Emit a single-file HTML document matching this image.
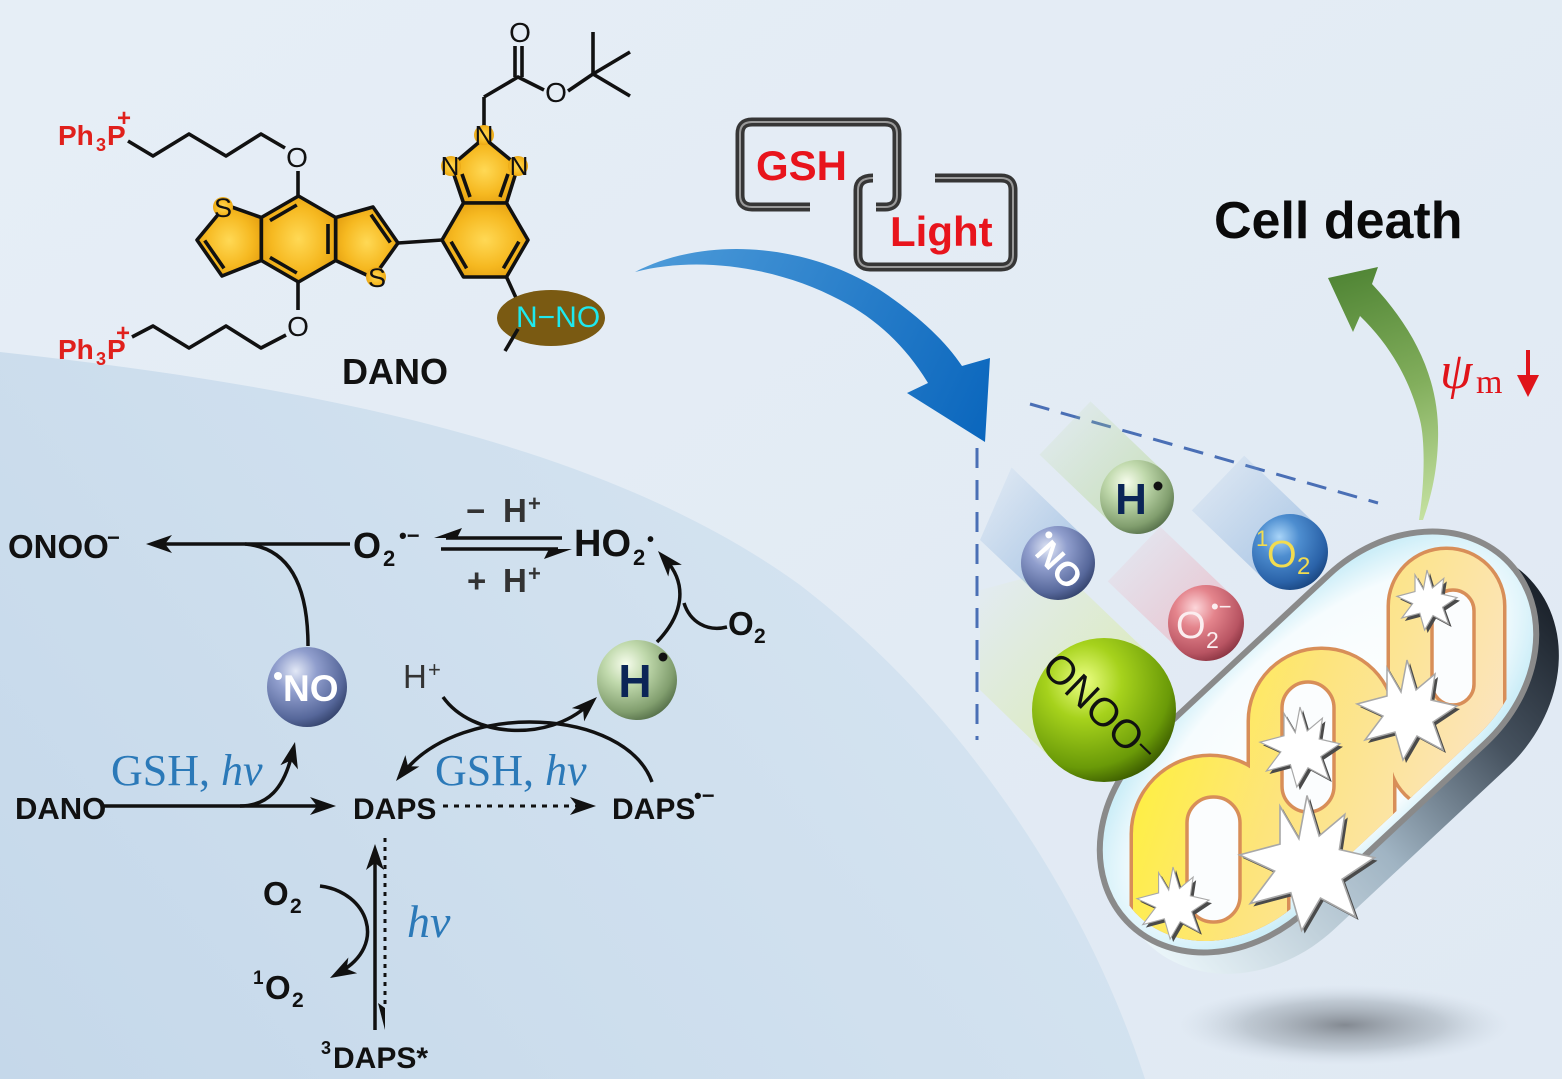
<!DOCTYPE html>
<html><head><meta charset="utf-8"><title>DANO scheme</title>
<style>
html,body{margin:0;padding:0;background:#e4edf5;overflow:hidden}
svg{display:block}
text{font-family:"Liberation Sans",Arial,sans-serif}
.b{font-weight:bold}
.sf{font-family:"Liberation Serif","Times New Roman",serif}
</style></head><body>
<svg xmlns="http://www.w3.org/2000/svg" xmlns:xlink="http://www.w3.org/1999/xlink" width="1562" height="1079" viewBox="0 0 1562 1079">
<defs>
<linearGradient id="bgTop" x1="0" y1="0" x2="1" y2="1">
 <stop offset="0" stop-color="#e6eef6"/><stop offset="1" stop-color="#e0e9f3"/>
</linearGradient>
<linearGradient id="bgLow" gradientUnits="userSpaceOnUse" x1="0" y1="1079" x2="800" y2="450">
 <stop offset="0" stop-color="#c5d8ea"/><stop offset="1" stop-color="#d4e3f0"/>
</linearGradient>
<radialGradient id="gold" cx="0.5" cy="0.5" r="0.6">
 <stop offset="0" stop-color="#ffd955"/><stop offset="0.6" stop-color="#f6b921"/><stop offset="1" stop-color="#e39d0e"/>
</radialGradient>
<linearGradient id="blueArr" gradientUnits="userSpaceOnUse" x1="635" y1="272" x2="985" y2="442">
 <stop offset="0" stop-color="#4d9bd9"/><stop offset="1" stop-color="#0a66bd"/>
</linearGradient>
<linearGradient id="greenArr" gradientUnits="userSpaceOnUse" x1="1340" y1="270" x2="1425" y2="520">
 <stop offset="0" stop-color="#4f8434"/><stop offset="0.5" stop-color="#82ae5c"/><stop offset="1" stop-color="#c6e2a2"/>
</linearGradient>
<radialGradient id="gNO" cx="0.36" cy="0.3" r="0.75" fx="0.36" fy="0.3">
 <stop offset="0" stop-color="#e2e8f6"/><stop offset="0.35" stop-color="#909ecd"/><stop offset="0.8" stop-color="#56679a"/><stop offset="1" stop-color="#34436c"/>
</radialGradient>
<radialGradient id="gH" cx="0.36" cy="0.3" r="0.75" fx="0.36" fy="0.3">
 <stop offset="0" stop-color="#f6fcec"/><stop offset="0.35" stop-color="#c0d9ac"/><stop offset="0.8" stop-color="#819e6e"/><stop offset="1" stop-color="#56704a"/>
</radialGradient>
<radialGradient id="gO1" cx="0.36" cy="0.3" r="0.75" fx="0.36" fy="0.3">
 <stop offset="0" stop-color="#a8d4f8"/><stop offset="0.35" stop-color="#4e8ed0"/><stop offset="0.8" stop-color="#2a62a8"/><stop offset="1" stop-color="#1a4680"/>
</radialGradient>
<radialGradient id="gO2" cx="0.36" cy="0.3" r="0.75" fx="0.36" fy="0.3">
 <stop offset="0" stop-color="#fcd6da"/><stop offset="0.35" stop-color="#e4848c"/><stop offset="0.8" stop-color="#b85462"/><stop offset="1" stop-color="#8a3442"/>
</radialGradient>
<radialGradient id="gON" cx="0.36" cy="0.3" r="0.75" fx="0.36" fy="0.3">
 <stop offset="0" stop-color="#ecff84"/><stop offset="0.35" stop-color="#a6d21c"/><stop offset="0.8" stop-color="#6a9a08"/><stop offset="1" stop-color="#3a5a00"/>
</radialGradient>
<linearGradient id="bmB" x1="1" y1="1" x2="0" y2="0"><stop offset="0" stop-color="#7aa6d8" stop-opacity="0.6"/><stop offset="1" stop-color="#7aa6d8" stop-opacity="0"/></linearGradient>
<linearGradient id="bmG" x1="1" y1="1" x2="0" y2="0"><stop offset="0" stop-color="#b4d68c" stop-opacity="0.6"/><stop offset="1" stop-color="#b4d68c" stop-opacity="0"/></linearGradient>
<linearGradient id="bmR" x1="1" y1="1" x2="0" y2="0"><stop offset="0" stop-color="#f0a2b0" stop-opacity="0.6"/><stop offset="1" stop-color="#f0a2b0" stop-opacity="0"/></linearGradient>
<linearGradient id="bmY" x1="1" y1="1" x2="0" y2="0"><stop offset="0" stop-color="#d6ec86" stop-opacity="0.65"/><stop offset="1" stop-color="#d6ec86" stop-opacity="0"/></linearGradient>
<linearGradient id="mSide" gradientUnits="userSpaceOnUse" x1="262" y1="0" x2="-262" y2="0">
 <stop offset="0" stop-color="#1c232c"/><stop offset="0.25" stop-color="#46525f"/><stop offset="0.55" stop-color="#a0b4c3"/><stop offset="1" stop-color="#eaf5f9"/>
</linearGradient>
<radialGradient id="mFace" cx="0.5" cy="0.5" r="0.55">
 <stop offset="0" stop-color="#ffffff"/><stop offset="0.78" stop-color="#f6fcfe"/><stop offset="1" stop-color="#cdeef8"/>
</radialGradient>
<linearGradient id="crista" gradientUnits="userSpaceOnUse" x1="1130" y1="700" x2="1490" y2="820">
 <stop offset="0" stop-color="#fff236"/><stop offset="0.45" stop-color="#fde47c"/><stop offset="1" stop-color="#fbe4c4"/>
</linearGradient>
<radialGradient id="shadow" cx="0.5" cy="0.5" r="0.5">
 <stop offset="0" stop-color="#7e848c" stop-opacity="0.95"/><stop offset="0.6" stop-color="#a8b2bc" stop-opacity="0.6"/><stop offset="1" stop-color="#c8d4e0" stop-opacity="0"/>
</radialGradient>
<clipPath id="mclip"><rect transform="translate(1318,742) rotate(-43)" x="-250" y="-104" width="500" height="208" rx="128" ry="104"/></clipPath>
<path id="ah" d="M0,0 L-26,-9 L-19,0 L-26,9 Z"/>
<path id="star" d="M0,-50 L9,-20 L28,-36 L24,-10 L50,-4 L26,12 L36,40 L10,26 L-4,50 L-12,22 L-42,30 L-24,6 L-50,-6 L-20,-14 L-20,-42 L-6,-18 Z"/>
</defs>

<rect width="1562" height="1079" fill="url(#bgTop)"/>
<path d="M0,352 C300,385 600,440 800,585 C950,700 1080,880 1145,1079 L0,1079 Z" fill="url(#bgLow)"/>

<!-- ===== Molecule ===== -->
<g stroke="#111" stroke-width="3.6" fill="none" stroke-linejoin="round">
 <polyline points="128,141 153,156 189,134 226,156 261,134 285,148"/>
 <line x1="298" y1="171" x2="298" y2="196"/>
 <line x1="298" y1="282" x2="298" y2="310"/>
 <polyline points="286,335 261,348 226,326 189,348 153,326 132,337"/>
 <polygon points="298.5,196 335.7,217.5 335.7,260.5 298.5,282 261.3,260.5 261.3,217.5" fill="url(#gold)"/>
 <polygon points="261.3,217.5 226,205 197,240 222,276 261.3,260.5" fill="url(#gold)"/>
 <polygon points="335.7,217.5 373,207 398,243 373,278 335.7,260.5" fill="url(#gold)"/>
 <line x1="398" y1="243" x2="442" y2="240"/>
 <polygon points="463.5,203 451,166 484,138 518,166 506.5,203" fill="url(#gold)"/>
 <polygon points="442,240 463.5,203 506.5,203 528,240 506.5,277 463.5,277" fill="url(#gold)"/>
 <line x1="328" y1="224" x2="328" y2="254"/>
 <line x1="296.8" y1="273" x2="270" y2="257.4"/>
 <line x1="270" y1="220.6" x2="296.8" y2="205"/>
 <line x1="204.7" y1="240.5" x2="224" y2="268.3"/>
 <line x1="371" y1="214.7" x2="390.3" y2="242.5"/>
 <line x1="451.1" y1="241.7" x2="466.6" y2="268.3"/>
 <line x1="518.9" y1="241.7" x2="503.4" y2="268.3"/>
 <line x1="470" y1="197" x2="462" y2="174"/>
 <line x1="500" y1="197" x2="508" y2="174"/>
 <line x1="484" y1="126" x2="484" y2="97"/>
 <polyline points="484,97 518,77 544,90"/>
 <line x1="515" y1="77" x2="515" y2="46"/>
 <line x1="522" y1="77" x2="522" y2="46"/>
 <line x1="568" y1="91" x2="593" y2="74"/>
 <line x1="593" y1="74" x2="593" y2="32"/>
 <line x1="593" y1="74" x2="630" y2="52"/>
 <line x1="593" y1="74" x2="630" y2="96"/>
 <line x1="506.5" y1="277" x2="517" y2="300"/>
</g>
<g fill="url(#gold)">
 <circle cx="223" cy="207" r="10"/><circle cx="376" cy="277" r="10"/>
 <circle cx="451" cy="166" r="10"/><circle cx="484" cy="135" r="10"/><circle cx="518" cy="166" r="10"/>
</g>
<g font-size="28" fill="#111" text-anchor="middle">
 <text x="297" y="167">O</text>
 <text x="298" y="336">O</text>
 <text x="520" y="42">O</text>
 <text x="556" y="102">O</text>
 <text x="223" y="217" font-size="27">S</text>
 <text x="377" y="287" font-size="27">S</text>
 <text x="450" y="175" font-size="26">N</text>
 <text x="484" y="144" font-size="26">N</text>
 <text x="519" y="175" font-size="26">N</text>
</g>
<ellipse cx="551" cy="318" rx="54" ry="28" fill="#7a5a12"/>
<text x="516" y="327" font-size="30" fill="#1ee8ee">N−NO</text>
<line x1="518" y1="329" x2="505" y2="351" stroke="#111" stroke-width="3.6"/>
<g fill="#e0201c">
 <text x="58" y="145" font-size="28" font-weight="bold">Ph</text>
 <text x="96" y="151" font-size="18" font-weight="bold">3</text>
 <text x="107" y="145" font-size="28" font-weight="bold">P</text>
 <text x="117" y="126" font-size="24" font-weight="bold">+</text>
 <text x="58" y="359" font-size="28" font-weight="bold">Ph</text>
 <text x="96" y="365" font-size="18" font-weight="bold">3</text>
 <text x="107" y="359" font-size="28" font-weight="bold">P</text>
 <text x="116" y="341" font-size="24" font-weight="bold">+</text>
</g>
<text x="342" y="384" font-size="36" font-weight="bold" fill="#111">DANO</text>

<!-- ===== Blue arrow ===== -->
<path d="M635,272 C700,238 800,240 880,290 C915,313 945,340 962,366 L990,358 L985,442 L907,393 L928,383 C905,345 875,318 840,300 C780,268 700,255 635,272 Z" fill="url(#blueArr)"/>

<!-- ===== GSH / Light chain ===== -->
<g fill="none" stroke-linejoin="round">
 <path d="M810,207 L752,207 Q740,207 740,195 L740,134 Q740,122 752,122 L885,122 Q897,122 897,134 L897,195 Q897,207 885,207 L876,207" stroke="#363636" stroke-width="9"/>
 <path d="M810,207 L752,207 Q740,207 740,195 L740,134 Q740,122 752,122 L885,122 Q897,122 897,134 L897,195 Q897,207 885,207 L876,207" stroke="#9a9a9a" stroke-width="2"/>
 <path d="M873,178 Q858,178 858,190 L858,255 Q858,267 870,267 L1001,267 Q1013,267 1013,255 L1013,190 Q1013,178 1001,178 L935,178" stroke="#363636" stroke-width="9"/>
 <path d="M873,178 Q858,178 858,190 L858,255 Q858,267 870,267 L1001,267 Q1013,267 1013,255 L1013,190 Q1013,178 1001,178 L935,178" stroke="#9a9a9a" stroke-width="2"/>
</g>
<text x="756" y="180" font-size="42" font-weight="bold" fill="#e8141c">GSH</text>
<text x="890" y="246" font-size="42" font-weight="bold" fill="#e8141c">Light</text>

<text x="1214" y="238" font-size="52" font-weight="bold" fill="#0a0a0a">Cell death</text>

<!-- ===== Reaction scheme ===== -->
<g stroke="#111" stroke-width="3.5" fill="none">
 <path d="M350,544 L162,544"/>
 <path d="M308,646 C308,590 292,548 245,544"/>
 <path d="M562,538 L446,538"/>
 <path d="M441,549 L558,549"/>
 <path d="M657,642 C683,615 688,585 666,560"/>
 <path d="M727,627 C707,632 690,622 684,603"/>
 <path d="M443,697 C472,738 548,742 588,705"/>
 <path d="M652,782 C625,708 462,700 404,772"/>
 <path d="M103,806 L320,806"/>
 <path d="M240,806 C268,806 284,788 292,754"/>
 <path d="M443,806 L580,806" stroke-dasharray="5,6" stroke-width="3"/>
 <path d="M375,1030 L375,862"/>
 <path d="M385,838 L385,1008" stroke-dasharray="4,5" stroke-width="3"/>
 <path d="M320,886 C368,892 388,945 340,972"/>
</g>
<g fill="#111">
 <use href="#ah" transform="translate(146,544) rotate(180)"/>
 <path d="M434,538 L462,528 L457,538 Z"/>
 <path d="M572,549 L544,559 L549,549 Z"/>
 <use href="#ah" transform="translate(658,551) rotate(-131)"/>
 <use href="#ah" transform="translate(597,697) rotate(-43)"/>
 <use href="#ah" transform="translate(396,781) rotate(129)"/>
 <use href="#ah" transform="translate(336,806)"/>
 <use href="#ah" transform="translate(295,742) rotate(-77)"/>
 <use href="#ah" transform="translate(596,806)"/>
 <use href="#ah" transform="translate(375,844) rotate(-90)"/>
 <path d="M385,1030 L378,1003 L385,1008 Z"/>
 <use href="#ah" transform="translate(330,978) rotate(151)"/>
</g>
<g fill="#111" font-weight="bold">
 <text x="8" y="558" font-size="33">ONOO</text>
 <text x="107" y="545" font-size="22">−</text>
 <text x="353" y="558" font-size="36">O</text>
 <text x="383" y="566" font-size="22">2</text>
 <text x="399" y="543" font-size="22">•−</text>
 <text x="574" y="556" font-size="38">HO</text>
 <text x="633" y="565" font-size="22">2</text>
 <text x="647" y="546" font-size="20">•</text>
 <text x="728" y="635" font-size="33">O</text>
 <text x="754" y="643" font-size="21">2</text>
 <text x="15" y="819" font-size="31">DANO</text>
 <text x="353" y="819" font-size="30">DAPS</text>
 <text x="612" y="819" font-size="30">DAPS</text>
 <text x="694" y="803" font-size="22">•−</text>
 <text x="263" y="905" font-size="33">O</text>
 <text x="290" y="913" font-size="21">2</text>
 <text x="253" y="984" font-size="19">1</text>
 <text x="265" y="999" font-size="33">O</text>
 <text x="292" y="1007" font-size="21">2</text>
 <text x="321" y="1054" font-size="18">3</text>
 <text x="333" y="1068" font-size="30">DAPS*</text>
</g>
<g fill="#333" font-weight="bold">
 <text x="466" y="522" font-size="33">−</text>
 <text x="503" y="522" font-size="33">H</text>
 <text x="528" y="511" font-size="22">+</text>
 <text x="467" y="592" font-size="33">+</text>
 <text x="503" y="592" font-size="33">H</text>
 <text x="528" y="581" font-size="22">+</text>
</g>
<text x="403" y="688" font-size="33" fill="#333">H</text>
<text x="428" y="677" font-size="22" fill="#333">+</text>
<g fill="#2b79b8" font-size="44">
 <text x="111" y="785" class="sf">GSH, <tspan font-style="italic">hν</tspan></text>
 <text x="435" y="785" class="sf">GSH, <tspan font-style="italic">hν</tspan></text>
 <text x="407" y="937" class="sf" font-size="46" font-style="italic">hν</text>
</g>
<circle cx="307" cy="687" r="40" fill="url(#gNO)"/>
<circle cx="278" cy="676" r="4" fill="#fff"/>
<text x="283" y="701" font-size="37" font-weight="bold" fill="#fff">NO</text>
<circle cx="637" cy="680" r="40" fill="url(#gH)"/>
<text x="635" y="697" text-anchor="middle" font-size="46" font-weight="bold" fill="#0b2557">H</text>
<circle cx="663" cy="657" r="4.5" fill="#111"/>

<!-- ===== Right panel ===== -->
<line x1="977" y1="448" x2="977" y2="740" stroke="#4a6fb5" stroke-width="3" stroke-dasharray="20,12"/>
<line x1="1030" y1="404" x2="1378" y2="503" stroke="#4a6fb5" stroke-width="3" stroke-dasharray="20,12"/>

<polygon points="1162.5,470.4 1111.5,523.6 1039.5,454.6 1090.5,401.4" fill="url(#bmG)"/>
<polygon points="1083.5,536.4 1032.5,589.6 980,540 1011.5,467.4" fill="url(#bmB)"/>
<polygon points="1316.2,524.6 1263.8,579.4 1191.8,510.4 1244.2,455.6" fill="url(#bmB)"/>
<polygon points="1232.2,595.6 1179.8,650.4 1107.8,581.4 1160.2,526.6" fill="url(#bmR)"/>
<polygon points="1153.7,658.2 1054.3,761.8 980,690 980,590 1060.1,568.5" fill="url(#bmY)"/>

<ellipse cx="1345" cy="1025" rx="165" ry="40" fill="url(#shadow)"/>

<!-- mitochondrion -->
<g transform="translate(1318,742) rotate(-43)">
 <rect x="-262" y="-96" width="528" height="244" rx="146" ry="122" fill="url(#mSide)"/>
 <rect x="-262" y="-115" width="524" height="230" rx="140" ry="115" fill="url(#mFace)" stroke="#8a8a8a" stroke-width="6"/>
</g>
<g clip-path="url(#mclip)">
 <g fill="#d88e58" stroke="#d88e58" stroke-width="7">
  <rect x="1133" y="757" width="154" height="230" rx="77"/>
  <rect x="1250" y="650" width="143" height="250" rx="71"/>
  <rect x="1390" y="550" width="113" height="260" rx="56"/>
 </g>
 <g fill="url(#crista)">
  <rect x="1133" y="757" width="154" height="230" rx="77"/>
  <rect x="1250" y="650" width="143" height="250" rx="71"/>
  <rect x="1390" y="550" width="113" height="260" rx="56"/>
 </g>
 <g fill="#fbfdfe" stroke="#d88e58" stroke-width="3.5">
  <rect x="1187" y="797" width="53" height="125" rx="26"/>
  <rect x="1282" y="682" width="52" height="130" rx="26"/>
  <rect x="1432" y="590" width="42" height="115" rx="21"/>
 </g>
</g>
<g>
 <use href="#star" transform="translate(1430,603) scale(0.6)" fill="#4a4a4a"/>
 <use href="#star" transform="translate(1427,600) scale(0.6)" fill="#fff" stroke="#a8a8a8" stroke-width="2"/>
 <use href="#star" transform="translate(1410,713) scale(1.0)" fill="#4a4a4a"/>
 <use href="#star" transform="translate(1407,710) scale(1.0)" fill="#fff" stroke="#a8a8a8" stroke-width="1.5"/>
 <use href="#star" transform="translate(1303,750) scale(0.8)" fill="#4a4a4a"/>
 <use href="#star" transform="translate(1300,747) scale(0.8)" fill="#fff" stroke="#a8a8a8" stroke-width="1.5"/>
 <use href="#star" transform="translate(1310,866) scale(1.35)" fill="#4a4a4a"/>
 <use href="#star" transform="translate(1307,863) scale(1.35)" fill="#fff" stroke="#a8a8a8" stroke-width="1.2"/>
 <use href="#star" transform="translate(1176,906) scale(0.72)" fill="#4a4a4a"/>
 <use href="#star" transform="translate(1173,903) scale(0.72)" fill="#fff" stroke="#a8a8a8" stroke-width="1.5"/>
</g>

<!-- right balls -->
<circle cx="1137" cy="497" r="37" fill="url(#gH)"/>
<text x="1131" y="514" text-anchor="middle" font-size="44" font-weight="bold" fill="#0b2557">H</text>
<circle cx="1158" cy="486" r="4.5" fill="#111"/>

<circle cx="1058" cy="563" r="37" fill="url(#gNO)"/>
<g transform="translate(1058,563) rotate(48)">
 <circle cx="-27" cy="-12" r="3.5" fill="#fff"/>
 <text x="2" y="12" text-anchor="middle" font-size="34" font-weight="bold" fill="#fff">NO</text>
</g>

<circle cx="1290" cy="552" r="38" fill="url(#gO1)"/>
<text x="1256" y="546" font-size="22" fill="#f2dc50">1</text>
<text x="1267" y="567" font-size="38" fill="#f2dc50">O</text>
<text x="1297" y="574" font-size="24" fill="#f2dc50">2</text>

<circle cx="1206" cy="623" r="38" fill="url(#gO2)"/>
<text x="1176" y="638" font-size="38" fill="#fbeef0">O</text>
<text x="1206" y="648" font-size="23" fill="#fbeef0">2</text>
<text x="1211" y="614" font-size="22" fill="#fbeef0">•−</text>

<circle cx="1104" cy="710" r="72" fill="url(#gON)"/>
<text transform="translate(1100,708) rotate(44)" text-anchor="middle" y="14" font-size="40" fill="#111">ONOO<tspan font-size="30" dy="-6">−</tspan></text>

<!-- green arrow -->
<path d="M1328,278 L1378,267 L1372,284 C1415,330 1440,380 1438,440 C1437,475 1430,500 1423,520 L1419,520 C1425,480 1425,440 1420,420 C1410,380 1390,345 1360,316 L1353,332 Z" fill="url(#greenArr)"/>

<text x="1440" y="388" class="sf" font-size="52" font-style="italic" fill="#e0141a">ψ</text>
<text x="1476" y="393" class="sf" font-size="34" fill="#e0141a">m</text>
<line x1="1528" y1="350" x2="1528" y2="380" stroke="#e0141a" stroke-width="4"/>
<path d="M1517,375 L1539,375 L1528,397 Z" fill="#e0141a"/>
</svg>
</body></html>
